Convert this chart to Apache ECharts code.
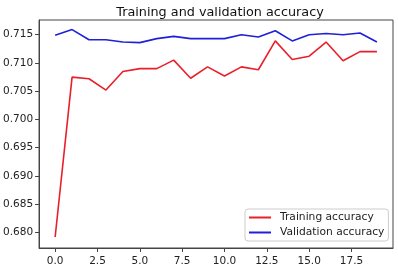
<!DOCTYPE html>
<html>
<head>
<meta charset="utf-8">
<script src="https://cdn.jsdelivr.net/npm/echarts@6/dist/echarts.min.js"></script>
<style>
  html, body { margin: 0; padding: 0; background: #fff; }
  #chart { width: 398px; height: 270px; }
</style>
</head>
<body>
<div id="chart"></div>
<script>
const epochs = [0, 1, 2, 3, 4, 5, 6, 7, 8, 9, 10, 11, 12, 13, 14, 15, 16, 17, 18, 19]
const trainAcc = [0.6792, 0.7075, 0.7072, 0.7052, 0.7085, 0.7090, 0.7090, 0.7105, 0.7073, 0.7093,
                  0.7077, 0.7093, 0.7088, 0.7139, 0.7106, 0.7112, 0.7137, 0.7104, 0.7120, 0.7120]
const valAcc   = [0.7149, 0.7159, 0.7141, 0.7141, 0.7137, 0.7136, 0.7143, 0.7147, 0.7143, 0.7143,
                  0.7143, 0.7150, 0.7146, 0.7157, 0.7139, 0.7150, 0.7152, 0.7150, 0.7153, 0.7137]
const xTicks = [0, 2.5, 5, 7.5, 10, 12.5, 15, 17.5]
const yTicks = [0.680, 0.685, 0.690, 0.695, 0.700, 0.705, 0.710, 0.715]

const font = 'DejaVu Sans'
const chart = echarts.init(document.getElementById('chart'))

// matplotlib-style axis: ticks outside, labels only at given values
const axisCommon = {
  axisLine: { show: true, onZero: false, lineStyle: { color: '#444', width: 1 } },
  splitLine: { show: false },
}

chart.setOption({
  animation: false,
  backgroundColor: '#fff',
  title: {
    text: 'Training and validation accuracy',
    left: 215, top: 1, textAlign: 'center',
    textStyle: { fontFamily: font, fontSize: 12.8, fontWeight: 'normal', color: '#111' },
  },
  grid: { left: 39, right: 5, top: 20, bottom: 22, show: true, borderColor: '#444', borderWidth: 1 },
  xAxis: {
    ...axisCommon,
    type: 'value', min: -0.95, max: 19.95,
    axisTick: { show: true, inside: false, length: 4, customValues: xTicks, lineStyle: { color: '#444' } },
    axisLabel: {
      customValues: xTicks, margin: 8,
      fontFamily: font, fontSize: 10.5, color: '#222',
      formatter: v => v.toFixed(1),
    },
  },
  yAxis: {
    ...axisCommon,
    type: 'value', min: 0.67726, max: 0.7176,
    axisTick: { show: true, inside: false, length: 4, customValues: yTicks, lineStyle: { color: '#444' } },
    axisLabel: {
      customValues: yTicks, margin: 6,
      fontFamily: font, fontSize: 10.5, color: '#222',
      formatter: v => v.toFixed(3),
    },
  },
  legend: {
    orient: 'vertical', left: 245, top: 209,
    padding: [3, 4, 3, 4], itemGap: 4,
    itemWidth: 22, itemHeight: 2, icon: 'rect',
    borderColor: '#ccc', borderWidth: 1, borderRadius: 3, backgroundColor: '#fff',
    textStyle: { fontFamily: font, fontSize: 10.7, color: '#222', padding: [0, 0, 0, 4] },
    data: ['Training accuracy', 'Validation accuracy'],
  },
  series: [
    {
      type: 'line', name: 'Training accuracy',
      data: epochs.map((e, i) => [e, trainAcc[i]]),
      symbol: 'none', lineStyle: { color: '#e8202a', width: 1.6 }, itemStyle: { color: '#e8202a' },
    },
    {
      type: 'line', name: 'Validation accuracy',
      data: epochs.map((e, i) => [e, valAcc[i]]),
      symbol: 'none', lineStyle: { color: '#2020d8', width: 1.6 }, itemStyle: { color: '#2020d8' },
    },
  ],
})
</script>
</body>
</html>
